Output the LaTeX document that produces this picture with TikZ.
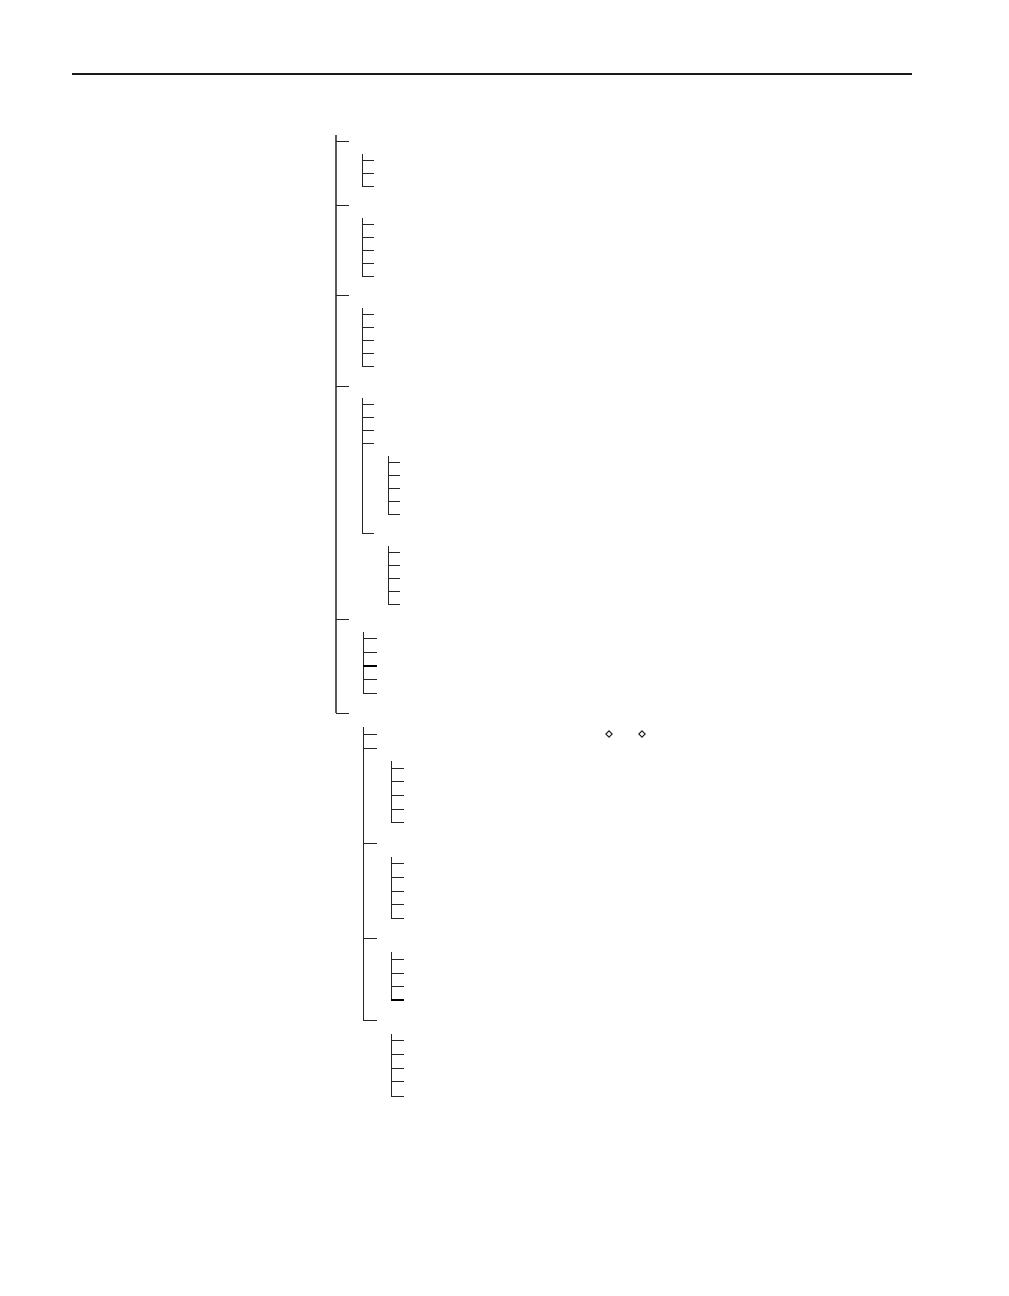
\documentclass[tikz,border=0pt]{standalone}
\usetikzlibrary{shapes.geometric}
\begin{document}
\begin{tikzpicture}[x=0.75pt,y=-0.75pt,
  trunk/.style={draw=black!65,line width=0.9pt},
  branch/.style={draw=black!85,line width=0.75pt},
  boldtick/.style={draw=black,line width=1.4pt},
  rulestyle/.style={draw=black!90,line width=1.1pt},
  dia/.style={draw=black!85,line width=0.8pt,diamond,inner sep=0pt,minimum size=5pt}]
\useasboundingbox (0,0) rectangle (1008,1296);
\coordinate (ruleL) at (72,74);
\coordinate (ruleR) at (912,74);
\draw[rulestyle] (ruleL) -- (ruleR);
% main tree
\coordinate (mTop) at (336,135);
\coordinate (mBot) at (336,713);
\draw[trunk] (mTop) -- (mBot);
\foreach \y in {141,205,295,386,619,713} \draw[branch] (336,\y) -- (349,\y);
% bracket helper: x, top, bottom, ticklen, list
\newcommand\mybrk[5]{%
  \draw[branch] (#1,#2) -- (#1,#3);
  \foreach \y in {#5} \draw[branch] (#1,\y) -- ++(#4,0);}
\mybrk{362}{154}{186}{12}{160,173,186}
\mybrk{362}{218}{276}{12}{224,237,250,263,276}
\mybrk{362}{308}{366}{12}{314,327,340,353,366}
\mybrk{362}{398}{533}{12}{404,417,430,443,533}
\mybrk{388}{456}{514}{12}{462,475,488,501,514}
\mybrk{388}{546}{604}{12}{552,565,578,591,604}
\mybrk{363}{632}{693}{14}{638,652,679,693}
\draw[boldtick] (363,666) -- (377,666);
% second tree
\coordinate (sTop) at (363,727);
\coordinate (sBot) at (363,1020);
\draw[branch] (sTop) -- (sBot);
\foreach \y in {734,748,843,938,1020} \draw[branch] (363,\y) -- (377,\y);
\mybrk{391}{761}{822}{13}{768,781,795,809,822}
\mybrk{391}{857}{918}{13}{863,877,891,904,918}
\mybrk{391}{952}{1000}{13}{959,973,986}
\draw[boldtick] (391,1000) -- (404,1000);
\mybrk{391}{1034}{1096}{13}{1040,1054,1068,1081,1096}
% diamonds
\node[dia] (d1) at (609,734) {};
\node[dia] (d2) at (642,734) {};
\end{tikzpicture}
\end{document}
